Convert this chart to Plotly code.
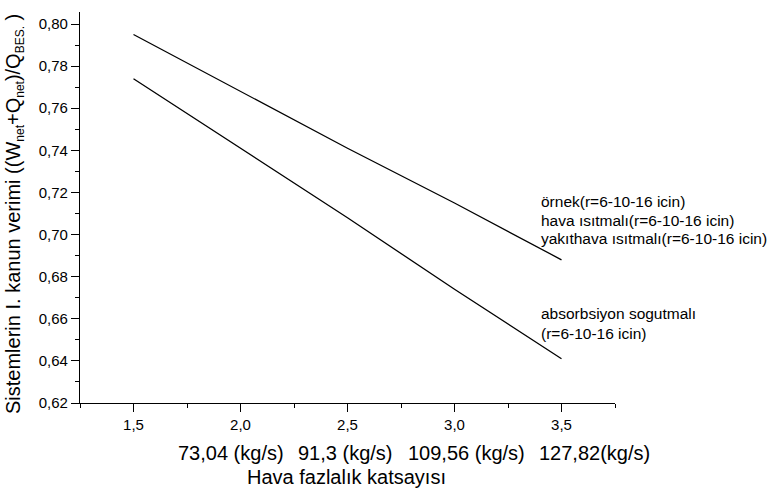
import plotly.graph_objects as go

# ---- data ----
excess_air = [1.5, 2.0, 2.5, 3.0, 3.5]
eff_upper = [0.795, 0.768, 0.741, 0.715, 0.688]   # örnek / hava ısıtmalı / yakıthava ısıtmalı
eff_lower = [0.774, 0.741, 0.708, 0.674, 0.641]   # absorbsiyon sogutmalı
flow_labels = ["73,04 (kg/s)", "91,3 (kg/s)", "109,56 (kg/s)", "127,82(kg/s)"]
upper_labels = ["örnek(r=6-10-16 icin)", "hava ısıtmalı(r=6-10-16 icin)",
                "yakıthava ısıtmalı(r=6-10-16 icin)"]
lower_labels = ["absorbsiyon sogutmalı", "(r=6-10-16 icin)"]
x_title = "Hava fazlalık katsayısı"
y_title = ("Sistemlerin I. kanun verimi ((W<sub><span style='font-size:12px'>net</span></sub>"
           "+Q<sub><span style='font-size:12px'>net</span></sub>)/Q"
           "<sub><span style='font-size:12px'>BES.</span></sub> )")

FONT = "Liberation Sans"
W, H = 771, 492
ML, MR, MT, MB = 80, 156, 12, 89
PW, PH = W - ML - MR, H - MT - MB

def px_x(p):
    return (p - ML) / PW

def px_y(p):
    return (H - MB - p) / PH

fig = go.Figure()
fig.add_trace(go.Scatter(x=excess_air, y=eff_upper, mode="lines",
                         line=dict(color="black", width=1.3), showlegend=False))
fig.add_trace(go.Scatter(x=excess_air, y=eff_lower, mode="lines",
                         line=dict(color="black", width=1.3), showlegend=False))

ann = []
for lab, p in zip(flow_labels, [176, 296, 406, 537]):
    ann.append(dict(x=px_x(p), y=px_y(453), xref="paper", yref="paper", text=lab,
                    showarrow=False, xanchor="left", yanchor="middle",
                    font=dict(family=FONT, size=20, color="black")))
ann.append(dict(x=px_x(346), y=px_y(477), xref="paper", yref="paper", text=x_title,
                showarrow=False, xanchor="center", yanchor="middle",
                font=dict(family=FONT, size=20, color="black")))
ann.append(dict(x=px_x(14), y=px_y(214), xref="paper", yref="paper", text=y_title,
                showarrow=False, xanchor="center", yanchor="middle", textangle=-90,
                font=dict(family=FONT, size=20, color="black")))
for lab, p in zip(upper_labels, [201, 220, 238.5]):
    ann.append(dict(x=px_x(539), y=px_y(p), xref="paper", yref="paper", text=lab,
                    showarrow=False, xanchor="left", yanchor="middle",
                    font=dict(family=FONT, size=15.5, color="black")))
for lab, p in zip(lower_labels, [313, 333]):
    ann.append(dict(x=px_x(539), y=px_y(p), xref="paper", yref="paper", text=lab,
                    showarrow=False, xanchor="left", yanchor="middle",
                    font=dict(family=FONT, size=15.5, color="black")))

axis_common = dict(showline=True, linecolor="black", linewidth=1.3, showgrid=False,
                   zeroline=False, ticks="outside", ticklen=8, tickwidth=1.3,
                   tickcolor="black", mirror=False,
                   tickfont=dict(family=FONT, size=15, color="black"))

fig.update_layout(
    width=W, height=H,
    margin=dict(l=ML, r=MR, t=MT, b=MB, pad=0),
    paper_bgcolor="white", plot_bgcolor="white",
    separators=",.",
    showlegend=False,
    font=dict(family=FONT, color="black"),
    annotations=ann,
    xaxis=dict(range=[1.25, 3.75], tick0=1.5, dtick=0.5, tickformat=".1f",
               minor=dict(dtick=0.25, tick0=1.25, ticks="outside", ticklen=4,
                          tickwidth=1.3, tickcolor="black"),
               **axis_common),
    yaxis=dict(range=[0.62, 0.8057], tick0=0.62, dtick=0.02, tickformat=".2f",
               minor=dict(dtick=0.01, tick0=0.62, ticks="outside", ticklen=4,
                          tickwidth=1.3, tickcolor="black"),
               **axis_common),
)

fig.write_html("out.html")
